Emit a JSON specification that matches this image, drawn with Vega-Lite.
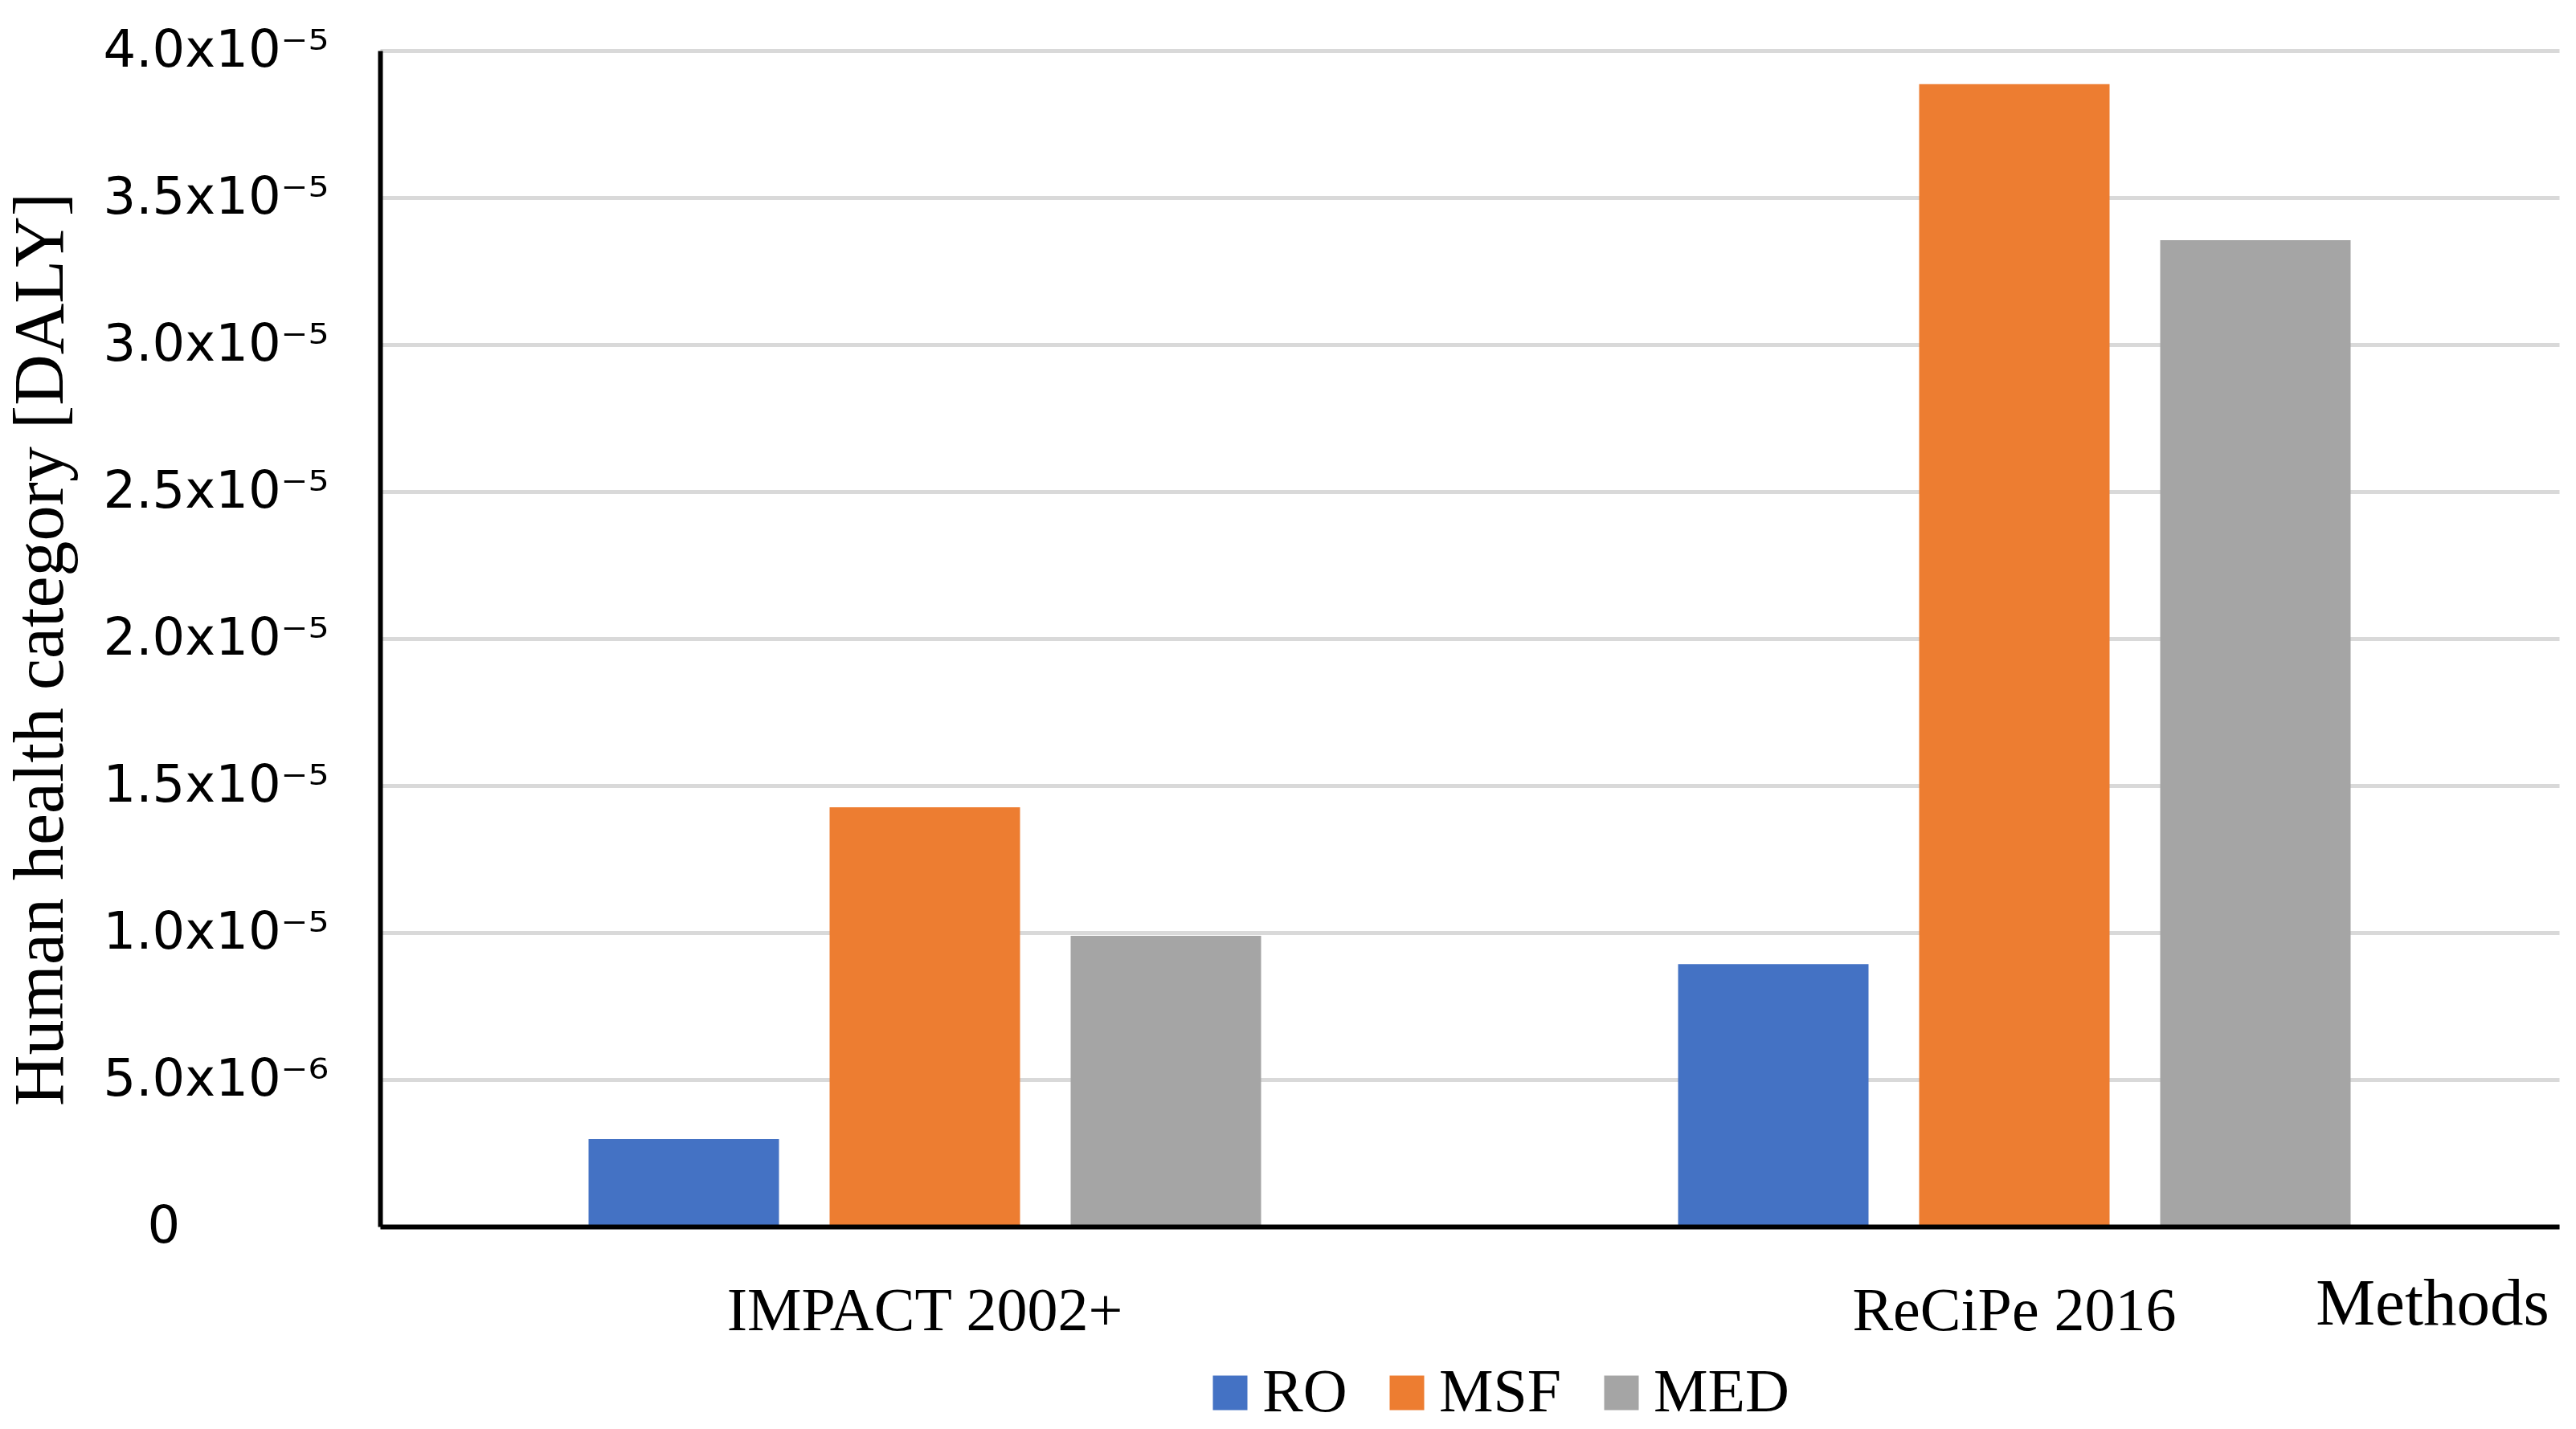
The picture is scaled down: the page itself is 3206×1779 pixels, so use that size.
{
  "$schema": "https://vega.github.io/schema/vega-lite/v6.json",
  "autosize": "none",
  "padding": {"left": 473, "top": 63, "right": 21, "bottom": 252},
  "width": 2712,
  "height": 1464,
  "background": "white",
  "data": {
    "values": [
      {"method": "IMPACT 2002+", "series": "RO", "value": 2.98e-6},
      {"method": "IMPACT 2002+", "series": "MSF", "value": 1.426e-5},
      {"method": "IMPACT 2002+", "series": "MED", "value": 9.89e-6},
      {"method": "ReCiPe 2016", "series": "RO", "value": 8.93e-6},
      {"method": "ReCiPe 2016", "series": "MSF", "value": 3.886e-5},
      {"method": "ReCiPe 2016", "series": "MED", "value": 3.355e-5}
    ]
  },
  "mark": {"type": "bar"},
  "encoding": {
    "x": {
      "field": "method",
      "type": "nominal",
      "sort": ["IMPACT 2002+", "ReCiPe 2016"],
      "scale": {"paddingInner": 0, "paddingOuter": 0},
      "axis": {
        "title": "Methods",
        "titleFont": "Liberation Serif",
        "titleFontSize": 83,
        "titleFontWeight": "normal",
        "titleColor": "#000000",
        "titleX": 2554,
        "titleY": 55,
        "titleAlign": "center",
        "titleBaseline": "top",
        "labelFont": "Liberation Serif",
        "labelFontSize": 76,
        "labelColor": "#000000",
        "labelAngle": 0,
        "labelPadding": 68,
        "labelBaseline": "top",
        "ticks": false,
        "tickSize": 0,
        "domainColor": "#000000",
        "domainWidth": 6,
        "grid": false,
        "zindex": 1
      }
    },
    "xOffset": {
      "field": "series",
      "type": "nominal",
      "sort": ["RO", "MSF", "MED"],
      "scale": {"paddingInner": 0.21, "paddingOuter": 0.865}
    },
    "y": {
      "field": "value",
      "type": "quantitative",
      "scale": {"domain": [0, 0.00004], "nice": false},
      "axis": {
        "title": "Human health category [DALY]",
        "titleFont": "Liberation Serif",
        "titleFontSize": 88,
        "titleFontWeight": "normal",
        "titleColor": "#000000",
        "titleAngle": 270,
        "titleX": -396,
        "titleY": 745,
        "titleAlign": "center",
        "titleBaseline": "alphabetic",
        "values": [0, 0.000005, 0.00001, 0.000015, 0.00002, 0.000025, 0.00003, 0.000035, 0.00004],
        "labelExpr": "datum.value == 0 ? '0' : (datum.value < 9.9e-6 ? format(datum.value*1e6, '.1f') + 'x10⁻⁶' : format(datum.value*1e5, '.1f') + 'x10⁻⁵')",
        "labelFont": "DejaVu Sans",
        "labelFontSize": 64,
        "labelColor": "#000000",
        "labelAlign": "left",
        "labelBaseline": "middle",
        "labelPadding": {"condition": {"test": "datum.value == 0", "value": 290}, "value": 345},
        "ticks": false,
        "tickSize": 0,
        "domainColor": "#000000",
        "domainWidth": 6,
        "grid": true,
        "gridColor": "#D9D9D9",
        "gridWidth": 5
      }
    },
    "color": {
      "field": "series",
      "type": "nominal",
      "scale": {"domain": ["RO", "MSF", "MED"], "range": ["#4472C4", "#ED7D31", "#A5A5A5"]},
      "legend": {
        "title": null,
        "orient": "none",
        "direction": "horizontal",
        "legendX": 1020,
        "legendY": 1633,
        "symbolType": "square",
        "symbolSize": 1849,
        "symbolStrokeWidth": 0,
        "labelFont": "Liberation Serif",
        "labelFontSize": 76,
        "labelColor": "#000000",
        "labelOffset": 2,
        "labelLimit": 600,
        "columnPadding": 36,
        "padding": 0
      }
    }
  },
  "config": {
    "view": {"stroke": null},
    "axis": {"labelLimit": 1000}
  }
}
